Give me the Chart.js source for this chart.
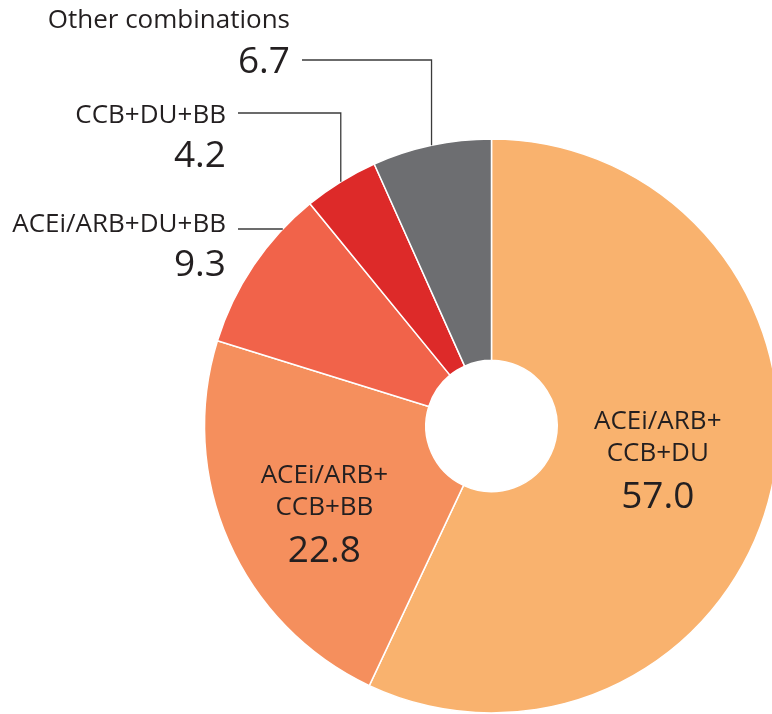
<!DOCTYPE html>
<html>
<head>
<meta charset="utf-8">
<script src="https://cdn.jsdelivr.net/npm/chart.js@4.4.1/dist/chart.umd.min.js"></script>
<style>
  html, body { margin: 0; padding: 0; background: #fff; overflow: hidden; }
  canvas { display: block; }
</style>
</head>
<body>
<canvas id="combos" width="772" height="714"></canvas>
<script>
// ---- data ----
const categories = ['ACEi/ARB+CCB+DU', 'ACEi/ARB+CCB+BB', 'ACEi/ARB+DU+BB', 'CCB+DU+BB', 'Other combinations'];
const shares     = [57.0, 22.8, 9.3, 4.2, 6.7];
const colours    = ['#f9b26e', '#f58f5d', '#f1634a', '#dd2a29', '#6d6e71'];
const nameLines  = [['ACEi/ARB+', 'CCB+DU'], ['ACEi/ARB+', 'CCB+BB'], ['ACEi/ARB+DU+BB'], ['CCB+DU+BB'], ['Other combinations']];

// label placement (inside: radius factor + nudge, outside: text anchor + leader type)
const labelLayout = [
  { inside: true, rf: 0.59, dx: 1, dy: -10 },
  { inside: true, rf: 0.64, dx: 1, dy: 7 },
  { inside: false, right: 226, nameY: 232, valueY: 276, lineY: 229, leader: 'flat' },
  { inside: false, right: 226, nameY: 123, valueY: 167, lineY: 113, leader: 'elbow' },
  { inside: false, right: 290, nameY: 28,  valueY: 73,  lineY: 60,  leader: 'elbow' }
];

const INK = '#231f20';
const FONT = '"Open Sans", "Noto Sans", sans-serif';

const labelPlugin = {
  id: 'sliceLabels',
  afterDatasetsDraw(chart) {
    const ctx = chart.ctx;
    const arcs = chart.getDatasetMeta(0).data;
    ctx.save();
    ctx.fillStyle = INK;
    arcs.forEach((arc, i) => {
      const { x, y, startAngle, endAngle, outerRadius } = arc.getProps(['x', 'y', 'startAngle', 'endAngle', 'outerRadius'], true);
      const mid = (startAngle + endAngle) / 2;
      const lay = labelLayout[i];
      const value = shares[i].toFixed(1);
      if (lay.inside) {
        const lx = x + Math.cos(mid) * outerRadius * lay.rf + lay.dx;
        const ly = y + Math.sin(mid) * outerRadius * lay.rf + lay.dy;
        ctx.textAlign = 'center';
        ctx.textBaseline = 'alphabetic';
        ctx.font = '26px ' + FONT;
        ctx.fillText(nameLines[i][0], lx, ly - 24);
        ctx.fillText(nameLines[i][1], lx, ly + 8);
        ctx.font = '37px ' + FONT;
        ctx.fillText(value, lx, ly + 55);
      } else {
        ctx.textAlign = 'right';
        ctx.textBaseline = 'alphabetic';
        ctx.font = '26px ' + FONT;
        ctx.fillText(nameLines[i][0], lay.right, lay.nameY);
        ctx.font = '37px ' + FONT;
        ctx.fillText(value, lay.right, lay.valueY);

        // leader line
        ctx.strokeStyle = '#3b3b3b';
        ctx.lineWidth = 1.3;
        ctx.beginPath();
        const startX = lay.right + 12;
        if (lay.leader === 'elbow') {
          const ex = x + Math.cos(mid) * outerRadius;
          const ey = y + Math.sin(mid) * outerRadius;
          ctx.moveTo(startX, lay.lineY);
          ctx.lineTo(ex, lay.lineY);
          ctx.lineTo(ex, ey);
        } else {
          const dy = lay.lineY - y;
          const ex = x - Math.sqrt(outerRadius * outerRadius - dy * dy);
          ctx.moveTo(startX, lay.lineY);
          ctx.lineTo(ex, lay.lineY);
        }
        ctx.stroke();
      }
    });
    ctx.restore();
  }
};

new Chart(document.getElementById('combos'), {
  type: 'doughnut',
  data: {
    labels: categories,
    datasets: [{
      data: shares,
      backgroundColor: colours,
      borderColor: '#ffffff',
      borderWidth: 1.5,
      clip: false
    }]
  },
  options: {
    responsive: false,
    devicePixelRatio: 1,
    animation: false,
    radius: 287,
    cutout: 64,
    rotation: 0,
    layout: { padding: { left: 211, right: 0, top: 138, bottom: 0 } },
    plugins: { legend: { display: false }, tooltip: { enabled: false } }
  },
  plugins: [labelPlugin]
});
</script>
</body>
</html>
